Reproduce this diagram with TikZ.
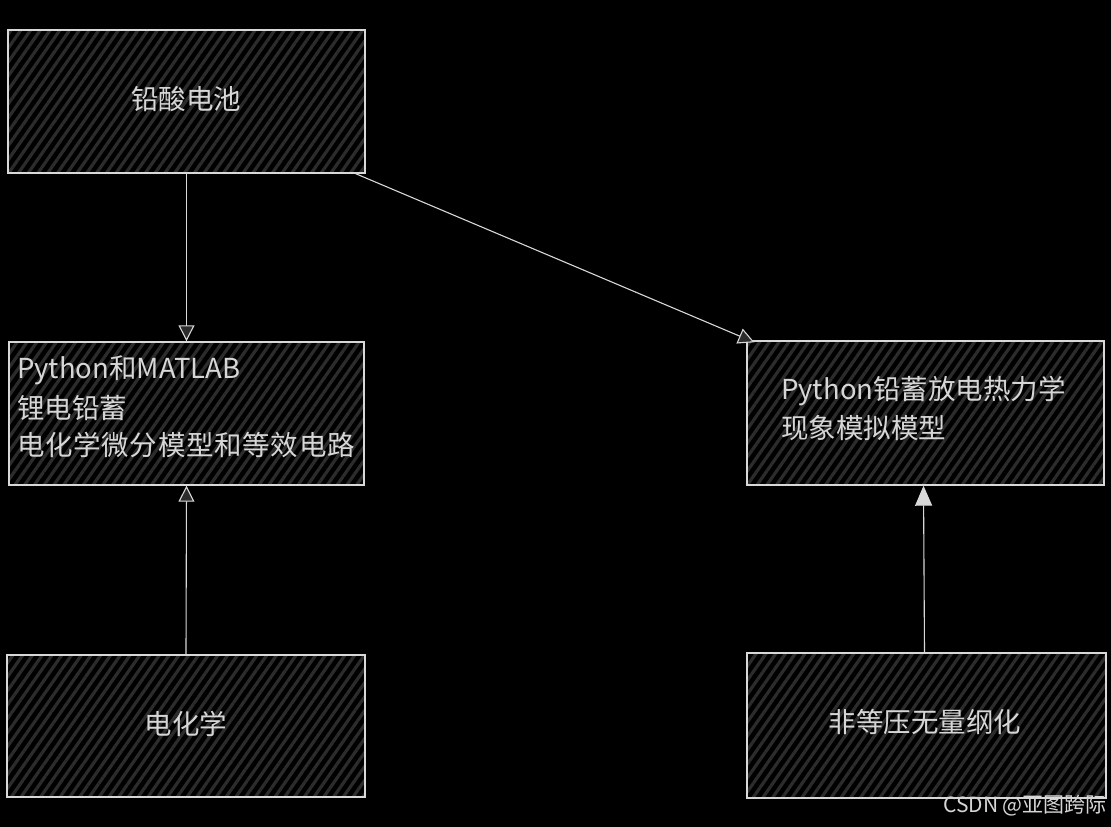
\documentclass[tikz,border=0pt]{standalone}
\usepackage{fontspec}
\setmainfont{Noto Sans CJK SC}
\usetikzlibrary{arrows.meta,patterns.meta,calc}
\definecolor{bg}{HTML}{000000}
\definecolor{hatch}{HTML}{2C2C2C}
\definecolor{edge}{HTML}{D8D8D8}
\definecolor{txt}{HTML}{D6D6D6}
\tikzset{
  box/.style={preaction={fill=black},
    preaction={pattern={Lines[angle=55,distance=8pt,line width=3.2pt]}, pattern color=hatch},
    draw=edge, line width=1.4pt, rectangle, inner sep=0pt},
  lbl/.style={text=txt, font=\fontsize{27.5}{37}\selectfont, inner sep=0pt},
  conn/.style={draw=edge, line width=1.1pt},
  hollow/.style={-{Triangle[length=16pt,width=16pt,line width=1.1pt,fill=hatch]}},
  solid/.style={-{Triangle[length=20pt,width=17pt,fill=edge]}}
}
\begin{document}
\begin{tikzpicture}[x=1pt,y=-1pt]
\fill[bg] (0,0) rectangle (1111,827);
\useasboundingbox (0,0) rectangle (1111,827);

\node[box, minimum width=357pt, minimum height=143pt] (a) at (186.5,101.5) {};
\node[lbl] (at) at (186,99) {铅酸电池};

\node[box, minimum width=355pt, minimum height=143pt] (b) at (186.5,413.5) {};
\node[lbl, anchor=west] (b1) at (17,370) {Python和MATLAB};
\node[lbl, anchor=west] (b2) at (17,408) {锂电铅蓄};
\node[lbl, anchor=west] (b3) at (17,445) {\addfontfeature{LetterSpace=2.5}电化学微分模型和等效电路};

\node[box, minimum width=357pt, minimum height=144pt] (c) at (925.5,413) {};
\node[lbl, anchor=west] (c1) at (781,391) {Python铅蓄放电热力学};
\node[lbl, anchor=west] (c2) at (781,428) {现象模拟模型};

\node[box, minimum width=358pt, minimum height=142pt] (d) at (186,726) {};
\node[lbl] (dt) at (186,724) {电化学};

\node[box, minimum width=359pt, minimum height=145pt] (e) at (926.5,725.5) {};
\node[lbl] (et) at (925,722) {非等压无量纲化};

\node[text=txt, font=\fontsize{21}{24}\selectfont, anchor=east, inner sep=0pt] (wm) at (1107,806) {CSDN @亚图跨际};

\draw[conn, hollow] (a.south) -- (b.north);
\draw[conn, hollow] ($(a.south east)+(-10,0)$) -- ($(c.north west)+(8,2)$);
\draw[conn, hollow] (d.north) -- (b.south);
\draw[conn, solid] ($(e.north)+(-2,0)$) -- ($(c.south)+(-2,0)$);
\end{tikzpicture}
\end{document}
